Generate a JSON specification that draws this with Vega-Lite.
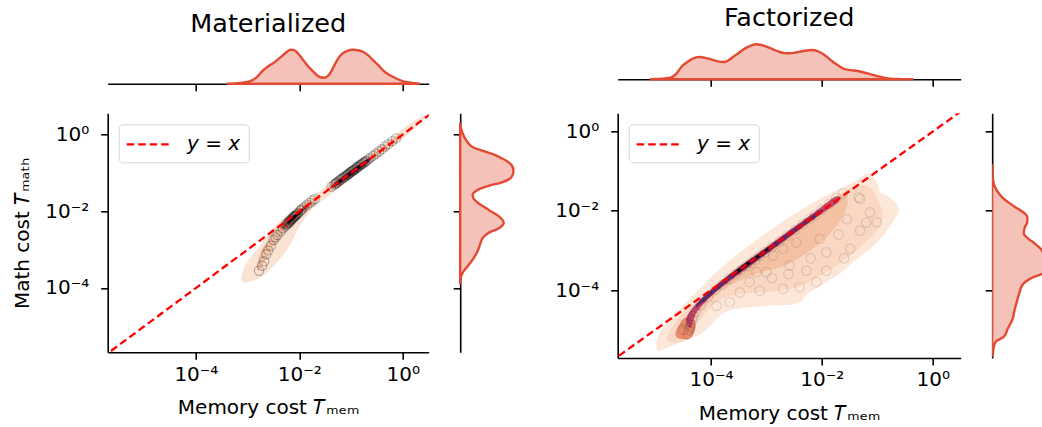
{
  "$schema": "https://vega.github.io/schema/vega-lite/v6.json",
  "background": "white",
  "padding": {"left": 11.7, "top": 5, "right": 0, "bottom": 0},
  "config": {
    "font": "DejaVu Sans",
    "view": {"stroke": null},
    "axis": {
      "domainColor": "black", "domainWidth": 1.6,
      "tickColor": "black", "tickWidth": 1.6, "tickSize": 7,
      "labelFont": "DejaVu Sans", "labelFontSize": 20, "labelColor": "black",
      "titleFont": "DejaVu Sans", "titleFontSize": 20, "titleFontWeight": "normal", "titleColor": "black",
      "grid": false
    },
    "title": {"font": "DejaVu Sans", "fontSize": 25.5, "fontWeight": "normal", "color": "black", "anchor": "middle"}
  },
  "datasets": {
    "diag": [
      {"mem": -6.0, "math": -6.0, "series": "y = x"},
      {"mem": 1.0, "math": 1.0, "series": "y = x"}
    ],
    "mat_pts": [
      {"mem": -2.78, "math": -3.55}, {"mem": -2.72, "math": -3.42}, {"mem": -2.68, "math": -3.30},
      {"mem": -2.64, "math": -3.12}, {"mem": -2.60, "math": -3.02}, {"mem": -2.55, "math": -2.90},
      {"mem": -2.50, "math": -2.75}, {"mem": -2.46, "math": -2.68}, {"mem": -2.42, "math": -2.62},
      {"mem": -2.36, "math": -2.52}, {"mem": -2.32, "math": -2.45}, {"mem": -2.28, "math": -2.40},
      {"mem": -2.25, "math": -2.36}, {"mem": -2.22, "math": -2.32}, {"mem": -2.20, "math": -2.30},
      {"mem": -2.18, "math": -2.26}, {"mem": -2.16, "math": -2.24}, {"mem": -2.14, "math": -2.20},
      {"mem": -2.12, "math": -2.18}, {"mem": -2.10, "math": -2.15}, {"mem": -2.08, "math": -2.12},
      {"mem": -2.05, "math": -2.08}, {"mem": -2.02, "math": -2.04}, {"mem": -1.98, "math": -1.98},
      {"mem": -1.94, "math": -1.93}, {"mem": -1.90, "math": -1.88}, {"mem": -1.85, "math": -1.83},
      {"mem": -1.80, "math": -1.78}, {"mem": -1.75, "math": -1.72}, {"mem": -1.70, "math": -1.68},
      {"mem": -2.21, "math": -2.28}, {"mem": -2.15, "math": -2.21}, {"mem": -2.09, "math": -2.14},
      {"mem": -2.03, "math": -2.06}, {"mem": -1.96, "math": -1.97}, {"mem": -2.25, "math": -2.33},
      {"mem": -2.19, "math": -2.23}, {"mem": -2.11, "math": -2.13}, {"mem": -2.06, "math": -2.10},
      {"mem": -1.38, "math": -1.36}, {"mem": -1.33, "math": -1.31}, {"mem": -1.30, "math": -1.28},
      {"mem": -1.27, "math": -1.25}, {"mem": -1.24, "math": -1.22}, {"mem": -1.20, "math": -1.18},
      {"mem": -1.16, "math": -1.13}, {"mem": -1.12, "math": -1.10}, {"mem": -1.08, "math": -1.06},
      {"mem": -1.05, "math": -1.03}, {"mem": -1.02, "math": -0.99}, {"mem": -0.98, "math": -0.96},
      {"mem": -0.95, "math": -0.93}, {"mem": -0.92, "math": -0.90}, {"mem": -0.88, "math": -0.86},
      {"mem": -0.85, "math": -0.83}, {"mem": -0.81, "math": -0.79}, {"mem": -0.78, "math": -0.76},
      {"mem": -0.74, "math": -0.72}, {"mem": -0.70, "math": -0.68}, {"mem": -0.66, "math": -0.64},
      {"mem": -0.62, "math": -0.60}, {"mem": -0.57, "math": -0.55}, {"mem": -0.52, "math": -0.50},
      {"mem": -0.46, "math": -0.44}, {"mem": -0.40, "math": -0.38}, {"mem": -0.34, "math": -0.31},
      {"mem": -0.28, "math": -0.25}, {"mem": -0.20, "math": -0.17}, {"mem": -0.13, "math": -0.10},
      {"mem": -1.10, "math": -1.07}, {"mem": -1.00, "math": -0.97}, {"mem": -0.90, "math": -0.87},
      {"mem": -0.83, "math": -0.80}, {"mem": -0.76, "math": -0.73}, {"mem": -1.18, "math": -1.15},
      {"mem": -1.06, "math": -1.04}, {"mem": -0.94, "math": -0.92}, {"mem": -1.14, "math": -1.12},
      {"mem": -1.03, "math": -1.01}, {"mem": -0.97, "math": -0.94}, {"mem": -0.87, "math": -0.84},
      {"mem": -1.22, "math": -1.19}, {"mem": -1.29, "math": -1.26}, {"mem": -0.80, "math": -0.77},
      {"mem": -0.72, "math": -0.70}
    ],
    "fac_pts": [
      {"mem": -4.42, "math": -5.12}, {"mem": -4.40, "math": -5.02}, {"mem": -4.38, "math": -4.95},
      {"mem": -4.37, "math": -4.88}, {"mem": -4.36, "math": -4.82}, {"mem": -4.34, "math": -4.74},
      {"mem": -4.32, "math": -4.66}, {"mem": -4.28, "math": -4.56}, {"mem": -4.18, "math": -4.38},
      {"mem": -4.05, "math": -4.18}, {"mem": -3.92, "math": -4.00}, {"mem": -3.80, "math": -3.86},
      {"mem": -3.68, "math": -3.72}, {"mem": -3.56, "math": -3.60}, {"mem": -3.46, "math": -3.49},
      {"mem": -3.36, "math": -3.39}, {"mem": -3.28, "math": -3.31}, {"mem": -3.20, "math": -3.23},
      {"mem": -3.12, "math": -3.14}, {"mem": -3.02, "math": -3.04}, {"mem": -2.90, "math": -2.91},
      {"mem": -2.76, "math": -2.77}, {"mem": -2.62, "math": -2.62}, {"mem": -2.48, "math": -2.48},
      {"mem": -2.34, "math": -2.33}, {"mem": -2.22, "math": -2.20}, {"mem": -2.12, "math": -2.10},
      {"mem": -2.00, "math": -1.97}, {"mem": -1.86, "math": -1.82}, {"mem": -1.74, "math": -1.68},
      {"mem": -1.62, "math": -1.56},
      {"mem": -1.31, "math": -1.70}, {"mem": -1.13, "math": -2.04}, {"mem": -1.01, "math": -2.29},
      {"mem": -1.31, "math": -2.50}, {"mem": -1.34, "math": -1.66}, {"mem": -1.49, "math": -2.96},
      {"mem": -1.92, "math": -3.51}, {"mem": -2.28, "math": -3.51}, {"mem": -2.40, "math": -3.93},
      {"mem": -2.70, "math": -3.97}, {"mem": -3.12, "math": -4.02}, {"mem": -3.48, "math": -4.06},
      {"mem": -3.66, "math": -4.31}, {"mem": -2.58, "math": -3.38}, {"mem": -2.88, "math": -3.13},
      {"mem": -3.18, "math": -3.55}, {"mem": -1.92, "math": -3.05}, {"mem": -1.55, "math": -2.21},
      {"mem": -2.04, "math": -2.71}, {"mem": -2.46, "math": -2.80}, {"mem": -2.70, "math": -2.96},
      {"mem": -3.00, "math": -3.55}, {"mem": -2.20, "math": -3.20},
      {"mem": -1.70, "math": -2.60}, {"mem": -3.30, "math": -3.80}, {"mem": -2.90, "math": -3.70},
      {"mem": -1.20, "math": -2.30}, {"mem": -1.60, "math": -3.20}, {"mem": -2.10, "math": -3.80},
      {"mem": -3.90, "math": -4.40}, {"mem": -2.60, "math": -3.60}, {"mem": -4.45, "math": -4.85},
      {"mem": -4.50, "math": -5.00}
    ],
    "mat_kde": [
      {"poly": "p1", "shade": "s1", "i": 1, "mem": -3.12, "math": -3.80},
      {"poly": "p1", "shade": "s1", "i": 2, "mem": -3.08, "math": -3.50},
      {"poly": "p1", "shade": "s1", "i": 3, "mem": -2.95, "math": -3.22},
      {"poly": "p1", "shade": "s1", "i": 4, "mem": -2.75, "math": -2.88},
      {"poly": "p1", "shade": "s1", "i": 5, "mem": -2.55, "math": -2.50},
      {"poly": "p1", "shade": "s1", "i": 6, "mem": -2.30, "math": -2.18},
      {"poly": "p1", "shade": "s1", "i": 7, "mem": -2.00, "math": -1.86},
      {"poly": "p1", "shade": "s1", "i": 8, "mem": -1.70, "math": -1.56},
      {"poly": "p1", "shade": "s1", "i": 9, "mem": -1.40, "math": -1.26},
      {"poly": "p1", "shade": "s1", "i": 10, "mem": -1.00, "math": -0.86},
      {"poly": "p1", "shade": "s1", "i": 11, "mem": -0.60, "math": -0.46},
      {"poly": "p1", "shade": "s1", "i": 12, "mem": -0.20, "math": -0.06},
      {"poly": "p1", "shade": "s1", "i": 13, "mem": 0.20, "math": 0.34},
      {"poly": "p1", "shade": "s1", "i": 14, "mem": 0.42, "math": 0.50},
      {"poly": "p1", "shade": "s1", "i": 15, "mem": 0.40, "math": 0.38},
      {"poly": "p1", "shade": "s1", "i": 16, "mem": 0.10, "math": 0.00},
      {"poly": "p1", "shade": "s1", "i": 17, "mem": -0.30, "math": -0.42},
      {"poly": "p1", "shade": "s1", "i": 18, "mem": -0.70, "math": -0.84},
      {"poly": "p1", "shade": "s1", "i": 19, "mem": -1.10, "math": -1.26},
      {"poly": "p1", "shade": "s1", "i": 20, "mem": -1.45, "math": -1.62},
      {"poly": "p1", "shade": "s1", "i": 21, "mem": -1.75, "math": -1.95},
      {"poly": "p1", "shade": "s1", "i": 22, "mem": -2.00, "math": -2.40},
      {"poly": "p1", "shade": "s1", "i": 23, "mem": -2.15, "math": -2.80},
      {"poly": "p1", "shade": "s1", "i": 24, "mem": -2.37, "math": -3.24},
      {"poly": "p1", "shade": "s1", "i": 25, "mem": -2.70, "math": -3.68},
      {"poly": "p1", "shade": "s1", "i": 26, "mem": -3.00, "math": -3.85},
      {"poly": "p2", "shade": "s2", "i": 1, "mem": -2.50, "math": -2.60},
      {"poly": "p2", "shade": "s2", "i": 2, "mem": -2.35, "math": -2.36},
      {"poly": "p2", "shade": "s2", "i": 3, "mem": -2.10, "math": -2.05},
      {"poly": "p2", "shade": "s2", "i": 4, "mem": -1.85, "math": -1.78},
      {"poly": "p2", "shade": "s2", "i": 5, "mem": -1.65, "math": -1.58},
      {"poly": "p2", "shade": "s2", "i": 6, "mem": -1.62, "math": -1.66},
      {"poly": "p2", "shade": "s2", "i": 7, "mem": -1.82, "math": -1.90},
      {"poly": "p2", "shade": "s2", "i": 8, "mem": -2.08, "math": -2.25},
      {"poly": "p2", "shade": "s2", "i": 9, "mem": -2.30, "math": -2.55},
      {"poly": "p2", "shade": "s2", "i": 10, "mem": -2.52, "math": -2.95},
      {"poly": "p2", "shade": "s2", "i": 11, "mem": -2.72, "math": -3.45},
      {"poly": "p2", "shade": "s2", "i": 12, "mem": -2.82, "math": -3.52},
      {"poly": "p2", "shade": "s2", "i": 13, "mem": -2.74, "math": -3.05},
      {"poly": "p3", "shade": "s2", "i": 1, "mem": -1.45, "math": -1.38},
      {"poly": "p3", "shade": "s2", "i": 2, "mem": -1.00, "math": -0.92},
      {"poly": "p3", "shade": "s2", "i": 3, "mem": -0.50, "math": -0.42},
      {"poly": "p3", "shade": "s2", "i": 4, "mem": -0.05, "math": 0.03},
      {"poly": "p3", "shade": "s2", "i": 5, "mem": -0.02, "math": -0.08},
      {"poly": "p3", "shade": "s2", "i": 6, "mem": -0.50, "math": -0.56},
      {"poly": "p3", "shade": "s2", "i": 7, "mem": -1.00, "math": -1.07},
      {"poly": "p3", "shade": "s2", "i": 8, "mem": -1.45, "math": -1.50},
      {"poly": "p4", "shade": "s4", "i": 1, "mem": -2.32, "math": -2.36},
      {"poly": "p4", "shade": "s4", "i": 2, "mem": -2.05, "math": -2.03},
      {"poly": "p4", "shade": "s4", "i": 3, "mem": -1.85, "math": -1.81},
      {"poly": "p4", "shade": "s4", "i": 4, "mem": -1.82, "math": -1.88},
      {"poly": "p4", "shade": "s4", "i": 5, "mem": -2.05, "math": -2.14},
      {"poly": "p4", "shade": "s4", "i": 6, "mem": -2.30, "math": -2.47},
      {"poly": "p5", "shade": "s4", "i": 1, "mem": -1.34, "math": -1.28},
      {"poly": "p5", "shade": "s4", "i": 2, "mem": -0.72, "math": -0.67},
      {"poly": "p5", "shade": "s4", "i": 3, "mem": -0.70, "math": -0.77},
      {"poly": "p5", "shade": "s4", "i": 4, "mem": -1.32, "math": -1.36},
      {"poly": "p6", "shade": "s5", "i": 1, "mem": -2.22, "math": -2.24},
      {"poly": "p6", "shade": "s5", "i": 2, "mem": -2.05, "math": -2.05},
      {"poly": "p6", "shade": "s5", "i": 3, "mem": -2.04, "math": -2.11},
      {"poly": "p6", "shade": "s5", "i": 4, "mem": -2.22, "math": -2.33},
      {"poly": "p7", "shade": "s5", "i": 1, "mem": -1.30, "math": -1.25},
      {"poly": "p7", "shade": "s5", "i": 2, "mem": -0.70, "math": -0.65},
      {"poly": "p7", "shade": "s5", "i": 3, "mem": -0.68, "math": -0.74},
      {"poly": "p7", "shade": "s5", "i": 4, "mem": -1.28, "math": -1.34},
      {"poly": "p8", "shade": "s6", "i": 1, "mem": -1.28, "math": -1.26},
      {"poly": "p8", "shade": "s6", "i": 2, "mem": -0.74, "math": -0.70},
      {"poly": "p8", "shade": "s6", "i": 3, "mem": -0.73, "math": -0.75},
      {"poly": "p8", "shade": "s6", "i": 4, "mem": -1.27, "math": -1.31},
      {"poly": "p9", "shade": "s6", "i": 1, "mem": -2.20, "math": -2.25},
      {"poly": "p9", "shade": "s6", "i": 2, "mem": -1.95, "math": -1.95},
      {"poly": "p9", "shade": "s6", "i": 3, "mem": -1.94, "math": -2.00},
      {"poly": "p9", "shade": "s6", "i": 4, "mem": -2.19, "math": -2.31}
    ],
    "fac_kde": [
      {"poly": "q1", "shade": "s1", "i": 1, "mem": -1.19, "math": -1.07},
      {"poly": "q1", "shade": "s1", "i": 2, "mem": -1.44, "math": -1.28},
      {"poly": "q1", "shade": "s1", "i": 3, "mem": -2.04, "math": -1.70},
      {"poly": "q1", "shade": "s1", "i": 4, "mem": -2.64, "math": -2.21},
      {"poly": "q1", "shade": "s1", "i": 5, "mem": -3.24, "math": -2.80},
      {"poly": "q1", "shade": "s1", "i": 6, "mem": -3.84, "math": -3.47},
      {"poly": "q1", "shade": "s1", "i": 7, "mem": -4.32, "math": -4.14},
      {"poly": "q1", "shade": "s1", "i": 8, "mem": -4.74, "math": -4.73},
      {"poly": "q1", "shade": "s1", "i": 9, "mem": -4.95, "math": -5.15},
      {"poly": "q1", "shade": "s1", "i": 10, "mem": -4.98, "math": -5.45},
      {"poly": "q1", "shade": "s1", "i": 11, "mem": -4.92, "math": -5.53},
      {"poly": "q1", "shade": "s1", "i": 12, "mem": -4.56, "math": -5.32},
      {"poly": "q1", "shade": "s1", "i": 13, "mem": -4.14, "math": -5.07},
      {"poly": "q1", "shade": "s1", "i": 14, "mem": -3.84, "math": -4.65},
      {"poly": "q1", "shade": "s1", "i": 15, "mem": -3.54, "math": -4.48},
      {"poly": "q1", "shade": "s1", "i": 16, "mem": -2.94, "math": -4.39},
      {"poly": "q1", "shade": "s1", "i": 17, "mem": -2.46, "math": -4.35},
      {"poly": "q1", "shade": "s1", "i": 18, "mem": -2.22, "math": -4.06},
      {"poly": "q1", "shade": "s1", "i": 19, "mem": -1.73, "math": -3.64},
      {"poly": "q1", "shade": "s1", "i": 20, "mem": -1.44, "math": -3.30},
      {"poly": "q1", "shade": "s1", "i": 21, "mem": -1.13, "math": -2.96},
      {"poly": "q1", "shade": "s1", "i": 22, "mem": -0.89, "math": -2.63},
      {"poly": "q1", "shade": "s1", "i": 23, "mem": -0.65, "math": -2.12},
      {"poly": "q1", "shade": "s1", "i": 24, "mem": -0.62, "math": -1.91},
      {"poly": "q1", "shade": "s1", "i": 25, "mem": -0.77, "math": -1.66},
      {"poly": "q1", "shade": "s1", "i": 26, "mem": -0.95, "math": -1.53},
      {"poly": "q1", "shade": "s1", "i": 27, "mem": -0.98, "math": -1.36},
      {"poly": "q1", "shade": "s1", "i": 28, "mem": -1.07, "math": -1.15},
      {"poly": "q2", "shade": "s2", "i": 1, "mem": -4.80, "math": -5.20},
      {"poly": "q2", "shade": "s2", "i": 2, "mem": -4.55, "math": -4.65},
      {"poly": "q2", "shade": "s2", "i": 3, "mem": -4.15, "math": -4.15},
      {"poly": "q2", "shade": "s2", "i": 4, "mem": -3.60, "math": -3.50},
      {"poly": "q2", "shade": "s2", "i": 5, "mem": -3.00, "math": -2.90},
      {"poly": "q2", "shade": "s2", "i": 6, "mem": -2.40, "math": -2.30},
      {"poly": "q2", "shade": "s2", "i": 7, "mem": -1.90, "math": -1.80},
      {"poly": "q2", "shade": "s2", "i": 8, "mem": -1.45, "math": -1.40},
      {"poly": "q2", "shade": "s2", "i": 9, "mem": -1.15, "math": -1.40},
      {"poly": "q2", "shade": "s2", "i": 10, "mem": -1.00, "math": -1.70},
      {"poly": "q2", "shade": "s2", "i": 11, "mem": -0.90, "math": -2.10},
      {"poly": "q2", "shade": "s2", "i": 12, "mem": -1.00, "math": -2.50},
      {"poly": "q2", "shade": "s2", "i": 13, "mem": -1.30, "math": -2.90},
      {"poly": "q2", "shade": "s2", "i": 14, "mem": -1.65, "math": -3.30},
      {"poly": "q2", "shade": "s2", "i": 15, "mem": -2.10, "math": -3.70},
      {"poly": "q2", "shade": "s2", "i": 16, "mem": -2.50, "math": -3.95},
      {"poly": "q2", "shade": "s2", "i": 17, "mem": -3.00, "math": -4.05},
      {"poly": "q2", "shade": "s2", "i": 18, "mem": -3.50, "math": -4.10},
      {"poly": "q2", "shade": "s2", "i": 19, "mem": -3.90, "math": -4.30},
      {"poly": "q2", "shade": "s2", "i": 20, "mem": -4.20, "math": -4.75},
      {"poly": "q2", "shade": "s2", "i": 21, "mem": -4.45, "math": -5.25},
      {"poly": "q2", "shade": "s2", "i": 22, "mem": -4.68, "math": -5.32},
      {"poly": "q3", "shade": "s3", "i": 1, "mem": -4.45, "math": -4.70},
      {"poly": "q3", "shade": "s3", "i": 2, "mem": -3.80, "math": -3.76},
      {"poly": "q3", "shade": "s3", "i": 3, "mem": -3.20, "math": -3.10},
      {"poly": "q3", "shade": "s3", "i": 4, "mem": -2.50, "math": -2.40},
      {"poly": "q3", "shade": "s3", "i": 5, "mem": -1.90, "math": -1.82},
      {"poly": "q3", "shade": "s3", "i": 6, "mem": -1.60, "math": -1.58},
      {"poly": "q3", "shade": "s3", "i": 7, "mem": -1.55, "math": -1.90},
      {"poly": "q3", "shade": "s3", "i": 8, "mem": -1.80, "math": -2.50},
      {"poly": "q3", "shade": "s3", "i": 9, "mem": -2.25, "math": -3.05},
      {"poly": "q3", "shade": "s3", "i": 10, "mem": -2.70, "math": -3.40},
      {"poly": "q3", "shade": "s3", "i": 11, "mem": -3.20, "math": -3.60},
      {"poly": "q3", "shade": "s3", "i": 12, "mem": -3.80, "math": -4.00},
      {"poly": "q3", "shade": "s3", "i": 13, "mem": -4.25, "math": -4.65},
      {"poly": "q3", "shade": "s3", "i": 14, "mem": -4.45, "math": -5.05},
      {"poly": "q7", "shade": "s7", "i": 1, "mem": -4.64, "math": -5.08},
      {"poly": "q7", "shade": "s7", "i": 2, "mem": -4.50, "math": -4.74},
      {"poly": "q7", "shade": "s7", "i": 3, "mem": -4.34, "math": -4.66},
      {"poly": "q7", "shade": "s7", "i": 4, "mem": -4.28, "math": -4.95},
      {"poly": "q7", "shade": "s7", "i": 5, "mem": -4.38, "math": -5.22},
      {"poly": "q7", "shade": "s7", "i": 6, "mem": -4.58, "math": -5.22},
      {"poly": "q4", "shade": "s4", "i": 1, "mem": -4.45, "math": -4.75},
      {"poly": "q4", "shade": "s4", "i": 2, "mem": -4.30, "math": -4.40},
      {"poly": "q4", "shade": "s4", "i": 3, "mem": -3.90, "math": -3.86},
      {"poly": "q4", "shade": "s4", "i": 4, "mem": -3.30, "math": -3.23},
      {"poly": "q4", "shade": "s4", "i": 5, "mem": -2.70, "math": -2.61},
      {"poly": "q4", "shade": "s4", "i": 6, "mem": -2.10, "math": -2.00},
      {"poly": "q4", "shade": "s4", "i": 7, "mem": -1.75, "math": -1.64},
      {"poly": "q4", "shade": "s4", "i": 8, "mem": -1.70, "math": -1.77},
      {"poly": "q4", "shade": "s4", "i": 9, "mem": -2.10, "math": -2.17},
      {"poly": "q4", "shade": "s4", "i": 10, "mem": -2.70, "math": -2.79},
      {"poly": "q4", "shade": "s4", "i": 11, "mem": -3.30, "math": -3.41},
      {"poly": "q4", "shade": "s4", "i": 12, "mem": -3.90, "math": -4.04},
      {"poly": "q4", "shade": "s4", "i": 13, "mem": -4.25, "math": -4.55},
      {"poly": "q4", "shade": "s4", "i": 14, "mem": -4.36, "math": -4.95},
      {"poly": "q5", "shade": "s5", "i": 1, "mem": -4.20, "math": -4.27},
      {"poly": "q5", "shade": "s5", "i": 2, "mem": -3.60, "math": -3.54},
      {"poly": "q5", "shade": "s5", "i": 3, "mem": -3.00, "math": -2.94},
      {"poly": "q5", "shade": "s5", "i": 4, "mem": -2.40, "math": -2.34},
      {"poly": "q5", "shade": "s5", "i": 5, "mem": -2.02, "math": -1.98},
      {"poly": "q5", "shade": "s5", "i": 6, "mem": -2.02, "math": -2.07},
      {"poly": "q5", "shade": "s5", "i": 7, "mem": -2.40, "math": -2.46},
      {"poly": "q5", "shade": "s5", "i": 8, "mem": -3.00, "math": -3.08},
      {"poly": "q5", "shade": "s5", "i": 9, "mem": -3.60, "math": -3.68},
      {"poly": "q5", "shade": "s5", "i": 10, "mem": -4.20, "math": -4.38},
      {"poly": "q6", "shade": "s6", "i": 1, "mem": -3.55, "math": -3.51},
      {"poly": "q6", "shade": "s6", "i": 2, "mem": -3.15, "math": -3.11},
      {"poly": "q6", "shade": "s6", "i": 3, "mem": -2.95, "math": -2.91},
      {"poly": "q6", "shade": "s6", "i": 4, "mem": -2.95, "math": -2.97},
      {"poly": "q6", "shade": "s6", "i": 5, "mem": -3.15, "math": -3.19},
      {"poly": "q6", "shade": "s6", "i": 6, "mem": -3.55, "math": -3.61}
    ],
    "mat_mem_density": [
      {"mem": -3.40, "density": 0}, {"mem": -3.24, "density": 0.3}, {"mem": -3.10, "density": 1.0},
      {"mem": -2.95, "density": 2.6}, {"mem": -2.82, "density": 6.5}, {"mem": -2.70, "density": 13.4},
      {"mem": -2.60, "density": 17.5}, {"mem": -2.50, "density": 20.7}, {"mem": -2.34, "density": 27.4},
      {"mem": -2.25, "density": 31.5}, {"mem": -2.17, "density": 34}, {"mem": -2.10, "density": 33.5},
      {"mem": -2.02, "density": 30}, {"mem": -1.93, "density": 24}, {"mem": -1.83, "density": 17.4},
      {"mem": -1.72, "density": 11.5}, {"mem": -1.63, "density": 7.4}, {"mem": -1.52, "density": 6},
      {"mem": -1.41, "density": 10}, {"mem": -1.33, "density": 17.5}, {"mem": -1.25, "density": 25},
      {"mem": -1.17, "density": 30}, {"mem": -1.08, "density": 32.7}, {"mem": -0.96, "density": 34},
      {"mem": -0.86, "density": 33.5}, {"mem": -0.76, "density": 31.7}, {"mem": -0.66, "density": 28},
      {"mem": -0.57, "density": 23.4}, {"mem": -0.47, "density": 18.5}, {"mem": -0.38, "density": 13.4},
      {"mem": -0.28, "density": 9.5}, {"mem": -0.18, "density": 6.7}, {"mem": -0.08, "density": 4.2},
      {"mem": 0.01, "density": 2.4}, {"mem": 0.15, "density": 1.0}, {"mem": 0.33, "density": 0}
    ],
    "mat_math_density": [
      {"math": 0.30, "density": 0}, {"math": 0.23, "density": 0.3}, {"math": 0.06, "density": 2},
      {"math": -0.15, "density": 6}, {"math": -0.33, "density": 12.7}, {"math": -0.42, "density": 22},
      {"math": -0.51, "density": 32.7}, {"math": -0.60, "density": 40}, {"math": -0.68, "density": 46},
      {"math": -0.80, "density": 51.5}, {"math": -0.94, "density": 53.3}, {"math": -1.05, "density": 52.5},
      {"math": -1.16, "density": 49.3}, {"math": -1.25, "density": 41}, {"math": -1.33, "density": 29.3},
      {"math": -1.42, "density": 19}, {"math": -1.50, "density": 14.3}, {"math": -1.56, "density": 12.5},
      {"math": -1.62, "density": 12.7}, {"math": -1.72, "density": 15}, {"math": -1.81, "density": 19.3},
      {"math": -1.92, "density": 26}, {"math": -2.03, "density": 32.7}, {"math": -2.14, "density": 39},
      {"math": -2.24, "density": 42.7}, {"math": -2.32, "density": 43.5}, {"math": -2.40, "density": 41},
      {"math": -2.48, "density": 36}, {"math": -2.55, "density": 29.3}, {"math": -2.63, "density": 25},
      {"math": -2.72, "density": 22}, {"math": -2.85, "density": 20}, {"math": -3.02, "density": 17.7},
      {"math": -3.20, "density": 14}, {"math": -3.37, "density": 9.3}, {"math": -3.48, "density": 6},
      {"math": -3.59, "density": 2.7}, {"math": -3.77, "density": 0.3}, {"math": -3.90, "density": 0}
    ],
    "fac_mem_density": [
      {"mem": -5.10, "density": 0}, {"mem": -5.00, "density": 0.3}, {"mem": -4.73, "density": 1.7},
      {"mem": -4.62, "density": 6}, {"mem": -4.52, "density": 13.3}, {"mem": -4.42, "density": 17.5},
      {"mem": -4.33, "density": 20.7}, {"mem": -4.21, "density": 22.3}, {"mem": -4.10, "density": 21.5},
      {"mem": -4.00, "density": 20}, {"mem": -3.88, "density": 18}, {"mem": -3.76, "density": 17.3},
      {"mem": -3.67, "density": 19.5}, {"mem": -3.58, "density": 23.3}, {"mem": -3.47, "density": 27.5},
      {"mem": -3.36, "density": 31.7}, {"mem": -3.27, "density": 34}, {"mem": -3.18, "density": 35},
      {"mem": -3.09, "density": 34.3}, {"mem": -3.00, "density": 32.7}, {"mem": -2.88, "density": 30},
      {"mem": -2.76, "density": 27.3}, {"mem": -2.67, "density": 26.2}, {"mem": -2.58, "density": 26},
      {"mem": -2.45, "density": 27}, {"mem": -2.33, "density": 28.3}, {"mem": -2.18, "density": 29.3},
      {"mem": -2.09, "density": 28.5}, {"mem": -2.00, "density": 26}, {"mem": -1.91, "density": 22.5},
      {"mem": -1.82, "density": 18.3}, {"mem": -1.71, "density": 14}, {"mem": -1.61, "density": 10.7},
      {"mem": -1.48, "density": 9.2}, {"mem": -1.36, "density": 8.3}, {"mem": -1.24, "density": 6.8},
      {"mem": -1.12, "density": 5}, {"mem": -1.00, "density": 3.2}, {"mem": -0.88, "density": 1.7},
      {"mem": -0.76, "density": 0.6}, {"mem": -0.58, "density": 0.2}, {"mem": -0.35, "density": 0}
    ],
    "fac_math_density": [
      {"math": -0.82, "density": 0}, {"math": -1.10, "density": 0.5}, {"math": -1.33, "density": 1.7},
      {"math": -1.50, "density": 5}, {"math": -1.66, "density": 10}, {"math": -1.80, "density": 17},
      {"math": -1.91, "density": 23.3}, {"math": -2.00, "density": 29}, {"math": -2.08, "density": 33.3},
      {"math": -2.18, "density": 35.2}, {"math": -2.29, "density": 35}, {"math": -2.42, "density": 32.5},
      {"math": -2.58, "density": 31.7}, {"math": -2.70, "density": 36}, {"math": -2.84, "density": 43.3},
      {"math": -2.96, "density": 48.5}, {"math": -3.09, "density": 51.7}, {"math": -3.25, "density": 55},
      {"math": -3.40, "density": 55}, {"math": -3.52, "density": 53}, {"math": -3.59, "density": 50},
      {"math": -3.67, "density": 41.7}, {"math": -3.78, "density": 34}, {"math": -3.88, "density": 30},
      {"math": -4.05, "density": 27.5}, {"math": -4.26, "density": 25}, {"math": -4.50, "density": 22.5},
      {"math": -4.76, "density": 20}, {"math": -4.98, "density": 15.5}, {"math": -5.18, "density": 11.7},
      {"math": -5.31, "density": 3.3}, {"math": -5.45, "density": 1.5}, {"math": -5.60, "density": 0.7},
      {"math": -5.69, "density": 0}
    ]
  },
  "resolve": {
    "scale": {"color": "independent", "fill": "independent"},
    "legend": {"color": "independent", "fill": "independent"}
  },
  "columns": 4,
  "align": "each",
  "bounds": "flush",
  "spacing": {"row": 29.3, "column": 31.5},
  "concat": [
    {
      "title": {"text": "Materialized", "offset": 4.5},
      "width": 321, "height": 41.7,
      "data": {"name": "mat_mem_density"},
      "mark": {"type": "area", "interpolate": "monotone", "fill": "#f4c2b8", "stroke": "#e34a33", "strokeWidth": 2.4},
      "encoding": {
        "x": {"field": "mem", "type": "quantitative",
              "scale": {"domain": [-5.706, 0.503], "nice": false, "zero": false},
              "axis": {"values": [-4, -2, 0], "labels": false, "title": null}},
        "y": {"field": "density", "type": "quantitative",
              "scale": {"domain": [0, 41.7], "nice": false}, "axis": null}
      }
    },
    {"width": 1, "height": 1, "data": {"values": []}, "mark": {"type": "point", "opacity": 0}},
    {
      "title": {"text": "Factorized", "offset": 8.5},
      "width": 343, "height": 37.3,
      "data": {"name": "fac_mem_density"},
      "mark": {"type": "area", "interpolate": "monotone", "fill": "#f4c2b8", "stroke": "#e34a33", "strokeWidth": 2.4},
      "encoding": {
        "x": {"field": "mem", "type": "quantitative",
              "scale": {"domain": [-5.683, 0.505], "nice": false, "zero": false},
              "axis": {"values": [-4, -2, 0], "labels": false, "title": null}},
        "y": {"field": "density", "type": "quantitative",
              "scale": {"domain": [0, 37.3], "nice": false}, "axis": null}
      }
    },
    {"width": 1, "height": 1, "data": {"values": []}, "mark": {"type": "point", "opacity": 0}},
    {
      "width": 321, "height": 239,
      "encoding": {
        "x": {"field": "mem", "type": "quantitative",
              "scale": {"domain": [-5.706, 0.503], "nice": false, "zero": false},
              "axis": {"values": [-4, -2, 0], "labelPadding": 5, "titlePadding": 13.5,
                       "labelExpr": "datum.value == 0 ? '10⁰' : datum.value == -2 ? '10⁻²' : '10⁻⁴'",
                       "title": "Memory cost 𝑇ₘₑₘ"}},
        "y": {"field": "math", "type": "quantitative",
              "scale": {"domain": [-5.677, 0.555], "nice": false, "zero": false},
              "axis": {"values": [-4, -2, 0], "labelPadding": 12, "titlePadding": 12,
                       "labelExpr": "datum.value == 0 ? '10⁰' : datum.value == -2 ? '10⁻²' : '10⁻⁴'",
                       "title": "Math cost 𝑇ₘₐₜₕ"}}
      },
      "layer": [
        {
          "data": {"name": "mat_kde"},
          "mark": {"type": "line", "interpolate": "cardinal-closed", "strokeWidth": 0, "clip": true},
          "encoding": {
            "detail": {"field": "poly"},
            "order": {"field": "i", "type": "quantitative"},
            "fill": {"field": "shade", "type": "nominal",
                     "scale": {"domain": ["s1", "s2", "s3", "s4", "s5", "s6"],
                               "range": ["#fbe3d3", "#f5c3a6", "#ef9f7c", "#d9574c", "#7a2a66", "#1e0b1e"]},
                     "legend": null}
          }
        },
        {
          "data": {"name": "mat_pts"},
          "mark": {"type": "point", "shape": "circle", "filled": false, "stroke": "black", "strokeOpacity": 0.38, "strokeWidth": 1.2, "size": 85, "clip": true}
        },
        {
          "data": {"name": "diag"},
          "mark": {"type": "line", "strokeDash": [7.5, 4], "strokeWidth": 2.3, "clip": true},
          "encoding": {
            "color": {"field": "series", "type": "nominal",
                      "scale": {"domain": ["y = x"], "range": ["#ff0000"]},
                      "legend": {"title": null, "orient": "top-left", "offset": 11,
                                 "symbolType": "M-2,0H2", "symbolSize": 456, "symbolStrokeWidth": 2.3,
                                 "symbolDash": [7.5, 4], "symbolOffset": 9.35, "labelOffset": 27,
                                 "labelFont": "DejaVu Sans", "labelFontSize": 20, "labelFontStyle": "italic",
                                 "labelColor": "black", "padding": 8, "fillColor": "white",
                                 "strokeColor": "#d6d6d6", "cornerRadius": 4}}
          }
        }
      ]
    },
    {
      "width": 126, "height": 239,
      "data": {"name": "mat_math_density"},
      "mark": {"type": "area", "orient": "horizontal", "interpolate": "monotone", "fill": "#f4c2b8", "stroke": "#e34a33", "strokeWidth": 2.4},
      "encoding": {
        "y": {"field": "math", "type": "quantitative",
              "scale": {"domain": [-5.677, 0.555], "nice": false, "zero": false},
              "axis": {"values": [-4, -2, 0], "labels": false, "title": null}},
        "x": {"field": "density", "type": "quantitative",
              "scale": {"domain": [0, 126], "nice": false}, "axis": null}
      }
    },
    {
      "width": 343, "height": 244.7,
      "encoding": {
        "x": {"field": "mem", "type": "quantitative",
              "scale": {"domain": [-5.683, 0.505], "nice": false, "zero": false},
              "axis": {"values": [-4, -2, 0], "labelPadding": 5, "titlePadding": 13.5,
                       "labelExpr": "datum.value == 0 ? '10⁰' : datum.value == -2 ? '10⁻²' : '10⁻⁴'",
                       "title": "Memory cost 𝑇ₘₑₘ"}},
        "y": {"field": "math", "type": "quantitative",
              "scale": {"domain": [-5.717, 0.462], "nice": false, "zero": false},
              "axis": {"values": [-4, -2, 0], "labelPadding": 12,
                       "labelExpr": "datum.value == 0 ? '10⁰' : datum.value == -2 ? '10⁻²' : '10⁻⁴'",
                       "title": null}}
      },
      "layer": [
        {
          "data": {"name": "fac_kde"},
          "mark": {"type": "line", "interpolate": "cardinal-closed", "strokeWidth": 0, "clip": true},
          "encoding": {
            "detail": {"field": "poly"},
            "order": {"field": "i", "type": "quantitative"},
            "fill": {"field": "shade", "type": "nominal",
                     "scale": {"domain": ["s1", "s2", "s3", "s4", "s5", "s6", "s7"],
                               "range": ["#fce7d9", "#f9d7c2", "#f4c2a3", "#c5476a", "#5e2a6c", "#1c0a20", "#ec8a6c"]},
                     "legend": null}
          }
        },
        {
          "data": {"name": "fac_pts"},
          "mark": {"type": "point", "shape": "circle", "filled": false, "stroke": "black", "strokeOpacity": 0.15, "strokeWidth": 1.2, "size": 90, "clip": true}
        },
        {
          "data": {"name": "diag"},
          "mark": {"type": "line", "strokeDash": [7.5, 4], "strokeWidth": 2.3, "clip": true},
          "encoding": {
            "color": {"field": "series", "type": "nominal",
                      "scale": {"domain": ["y = x"], "range": ["#ff0000"]},
                      "legend": {"title": null, "orient": "top-left", "offset": 11,
                                 "symbolType": "M-2,0H2", "symbolSize": 456, "symbolStrokeWidth": 2.3,
                                 "symbolDash": [7.5, 4], "symbolOffset": 9.35, "labelOffset": 27,
                                 "labelFont": "DejaVu Sans", "labelFontSize": 20, "labelFontStyle": "italic",
                                 "labelColor": "black", "padding": 8, "fillColor": "white",
                                 "strokeColor": "#d6d6d6", "cornerRadius": 4}}
          }
        }
      ]
    },
    {
      "width": 49.8, "height": 244.7,
      "data": {"name": "fac_math_density"},
      "mark": {"type": "area", "orient": "horizontal", "interpolate": "monotone", "fill": "#f4c2b8", "stroke": "#e34a33", "strokeWidth": 2.4, "clip": true},
      "encoding": {
        "y": {"field": "math", "type": "quantitative",
              "scale": {"domain": [-5.717, 0.462], "nice": false, "zero": false},
              "axis": {"values": [-4, -2, 0], "labels": false, "title": null}},
        "x": {"field": "density", "type": "quantitative",
              "scale": {"domain": [0, 49.8], "nice": false}, "axis": null}
      }
    }
  ]
}
